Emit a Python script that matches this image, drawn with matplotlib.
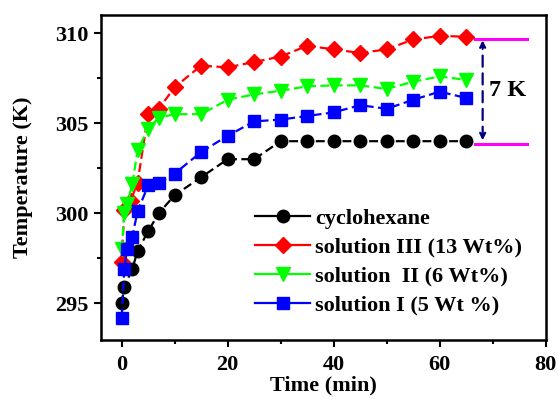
import matplotlib.pyplot as plt
from matplotlib.lines import Line2D
from matplotlib.ticker import MultipleLocator

plt.rcParams['font.family'] = 'Liberation Serif'
plt.rcParams['font.weight'] = 'bold'

# time points (min)
t_cyc = [0, 0.5, 2, 3, 5, 7, 10, 15, 20, 25, 30, 35, 40, 45, 50, 55, 60, 65]
cyclohexane = [295.0, 295.9, 296.9, 297.9, 299.0, 300.0, 301.0, 302.0, 303.0, 303.0,
               304.0, 304.0, 304.0, 304.0, 304.0, 304.0, 304.0, 304.0]

t_sol3 = [0, 0.5, 1.7, 3, 5, 7, 10, 15, 20, 25, 30, 35, 40, 45, 50, 55, 60, 65]
sol3 = [297.3, 300.2, 300.7, 301.7, 305.5, 305.8, 307.0, 308.2, 308.1, 308.4,
        308.7, 309.3, 309.1, 308.9, 309.1, 309.65, 309.85, 309.8]

t_sol2 = [0, 0.5, 1, 2, 3, 5, 7, 10, 15, 20, 25, 30, 35, 40, 45, 50, 55, 60, 65]
sol2 = [298.0, 300.0, 300.5, 301.6, 303.5, 304.7, 305.3, 305.5, 305.5, 306.3,
        306.6, 306.8, 307.05, 307.1, 307.1, 306.9, 307.3, 307.6, 307.4]

t_sol1 = [0, 0.5, 1, 2, 3, 5, 7, 10, 15, 20, 25, 30, 35, 40, 45, 50, 55, 60, 65]
sol1 = [294.2, 296.9, 298.0, 298.7, 300.1, 301.55, 301.65, 302.2, 303.4, 304.3,
        305.1, 305.2, 305.4, 305.6, 306.0, 305.8, 306.3, 306.75, 306.4]

labels = ['cyclohexane', 'solution III (13 Wt%)', 'solution  II (6 Wt%)', 'solution I (5 Wt %)']

fig = plt.figure(figsize=(5.58, 3.99), dpi=100)
ax = fig.add_axes([0.181, 0.148, 0.797, 0.814])

dash = (0, (4, 2))
ax.plot(t_cyc, cyclohexane, color='black', ls=dash, lw=1.6, marker='o', ms=9, zorder=3)
ax.plot(t_sol3, sol3, color='red', ls=dash, lw=1.6, marker='D', ms=8, zorder=4)
ax.plot(t_sol2, sol2, color='#00ff00', ls=dash, lw=1.6, marker='v', ms=10, zorder=5)
ax.plot(t_sol1, sol1, color='blue', ls=dash, lw=1.6, marker='s', ms=8, zorder=6)

# 7 K difference marker
ax.plot([66.6, 76.4], [309.7, 309.7], color='magenta', lw=2.2)
ax.plot([66.6, 76.4], [303.85, 303.85], color='magenta', lw=2.2)
ax.annotate('', xy=(68.1, 309.6), xytext=(68.1, 304.05),
            arrowprops=dict(arrowstyle='<|-|>', color='#000080', lw=1.6,
                            ls=(0, (5, 3)), mutation_scale=9, shrinkA=0, shrinkB=0))
ax.text(72.8, 306.8, '7 K', fontsize=17.5, fontweight='bold', ha='center', va='center')

ax.set_xlim(-3.9, 80)
ax.set_ylim(292.96, 311.0)
ax.xaxis.set_major_locator(MultipleLocator(20))
ax.xaxis.set_minor_locator(MultipleLocator(10))
ax.yaxis.set_major_locator(MultipleLocator(5))
ax.yaxis.set_minor_locator(MultipleLocator(2.5))
ax.tick_params(which='both', direction='out', width=1.5, labelsize=16)
ax.tick_params(which='major', length=5)
ax.tick_params(which='minor', length=3)
ax.tick_params(axis='x', pad=6)
ax.tick_params(axis='y', pad=4)
for s in ax.spines.values():
    s.set_linewidth(1.8)

ax.set_xlabel('Time (min)', fontsize=16, fontweight='bold', labelpad=0)
ax.set_ylabel('Temperature (K)', fontsize=16, fontweight='bold', labelpad=16)

handles = [
    Line2D([], [], color='black', marker='o', ms=9, lw=1.6),
    Line2D([], [], color='red', marker='D', ms=8, lw=1.6),
    Line2D([], [], color='#00ff00', marker='v', ms=10, lw=1.6),
    Line2D([], [], color='blue', marker='s', ms=8, lw=1.6),
]
ax.legend(handles, labels, loc='center left', bbox_to_anchor=(0.346, 0.24),
          frameon=False, handlelength=2.5, handletextpad=0.2,
          labelspacing=0.38, borderpad=0, borderaxespad=0,
          prop={'weight': 'bold', 'size': 16})

fig.savefig('out.png', dpi=100)
